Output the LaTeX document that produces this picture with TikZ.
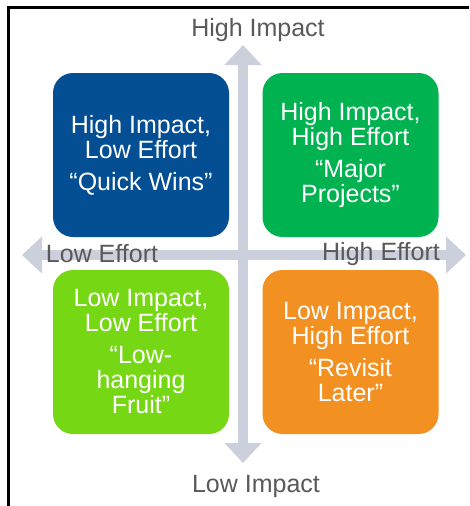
\documentclass[tikz,border=0pt]{standalone}
\usepackage{fontspec}
\setmainfont{Liberation Sans}
\usepackage{xcolor}
\usepackage{tikz}
\usetikzlibrary{arrows.meta}

\definecolor{qwblue}{RGB}{4,78,148}
\definecolor{mpgreen}{RGB}{0,178,80}
\definecolor{lflime}{RGB}{118,216,20}
\definecolor{rlorange}{RGB}{242,144,34}
\definecolor{axisgray}{RGB}{204,208,220}
\definecolor{labelgray}{RGB}{89,89,89}

\tikzset{
  quad/.style={rounded corners=20pt, minimum width=176pt, minimum height=164pt,
               text=white, align=center, inner sep=0pt,
               font=\fontsize{25}{25}\selectfont},
  axislabel/.style={text=labelgray, inner sep=0pt, font=\fontsize{25}{25}\selectfont},
  axis/.style={draw=axisgray, line width=10pt,
               {Triangle[length=20pt,width=36pt]}-{Triangle[length=20pt,width=36pt]}}
}

\begin{document}
\begin{tikzpicture}[x=1pt,y=-1pt]
      \useasboundingbox (0,0) rectangle (469,506);
      \draw[line width=2.5pt] (8.5,506) -- (8.5,7.5) -- (469,7.5);

      \coordinate (top)   at (243, 45);
      \coordinate (bot)   at (243, 463);
      \coordinate (left)  at (22,  255);
      \coordinate (right) at (466, 255);
      \draw[axis] (top) to (bot);
      \draw[axis] (left) to (right);

      \node[quad, fill=qwblue]   (QW) at (141,   155) {High Impact,\\Low Effort\\[7pt]“Quick Wins”};
      \node[quad, fill=mpgreen]  (MP) at (350.5, 155) {High Impact,\\High Effort\\[7pt]“Major\\Projects”};
      \node[quad, fill=lflime]   (LF) at (141,   352) {Low Impact,\\Low Effort\\[7pt]“Low-\\hanging\\Fruit”};
      \node[quad, fill=rlorange] (RL) at (350.5, 352) {Low Impact,\\High Effort\\[7pt]“Revisit\\Later”};

      \node[axislabel] (HI) at (258, 30)  {High Impact};
      \node[axislabel] (LI) at (256, 486) {Low Impact};
      \node[axislabel] (LE) at (102, 254) {Low Effort};
      \node[axislabel] (HE) at (381, 254) {High Effort};
\end{tikzpicture}
\end{document}
